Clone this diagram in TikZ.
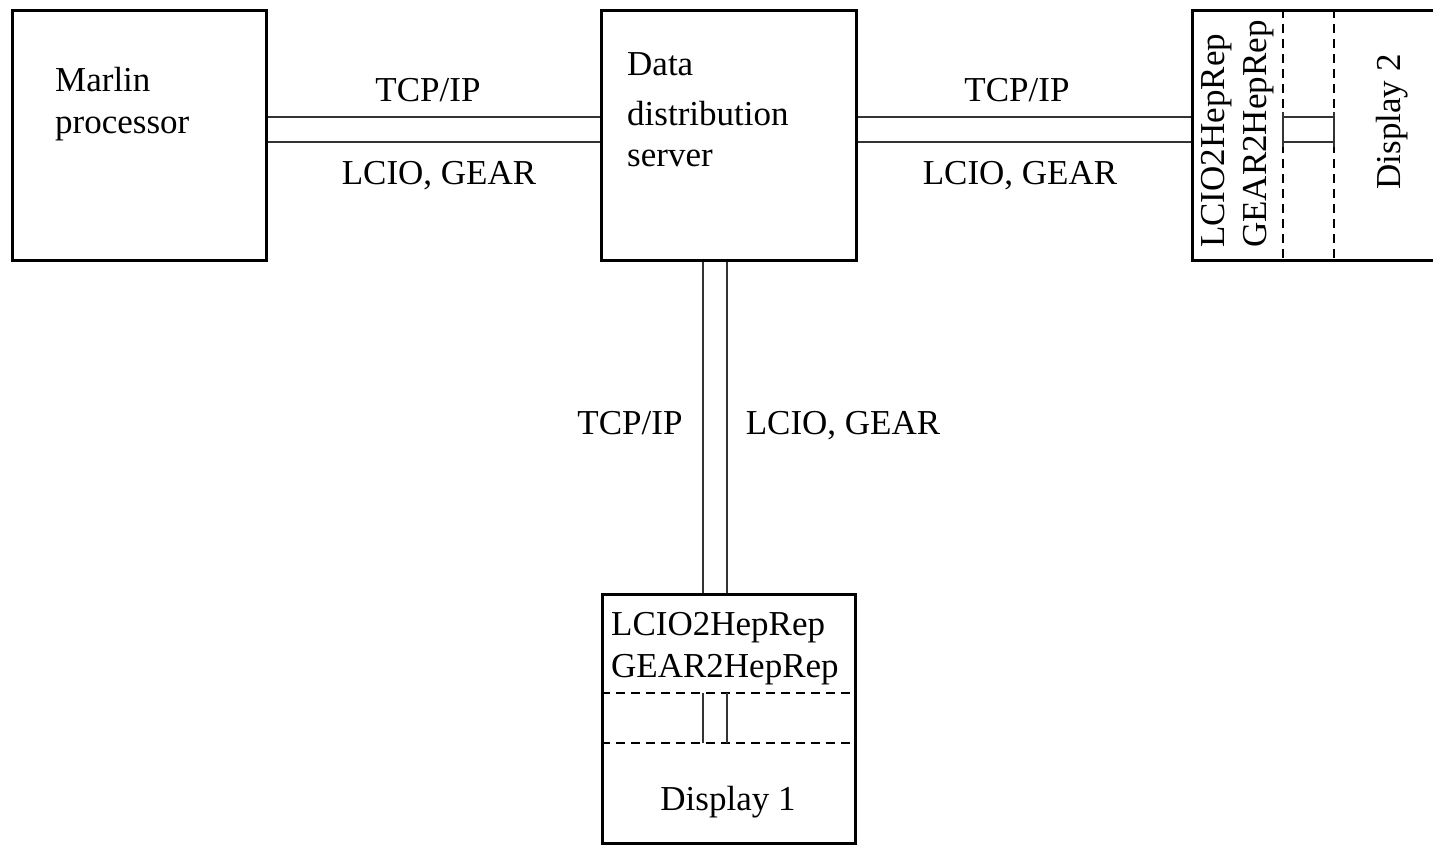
\documentclass[tikz,border=0pt]{standalone}
\usepackage{fontspec}
\setmainfont{Liberation Serif}
\begin{document}
\begin{tikzpicture}[x=1pt,y=-1pt,
  box/.style={draw,line width=3pt,rectangle,anchor=north west,inner sep=0pt},
  conn/.style={line width=1.3pt,draw=black!80},
  dashline/.style={line width=1.3pt,dash pattern=on 9pt off 6pt},
  lbl/.style={font=\fontsize{35}{42}\selectfont,inner sep=0pt},
]
\useasboundingbox (0,0) rectangle (1433,844);
\clip (0,0) rectangle (1433,844);
% boxes
\node[box,minimum width=254pt,minimum height=250pt] (marlin) at (11,9) {};
\node[box,minimum width=255pt,minimum height=250pt] (server) at (600,9) {};
\node[box,minimum width=260pt,minimum height=250pt] (disp2) at (1191,9) {};
\node[box,minimum width=253pt,minimum height=249pt] (disp1) at (601,593) {};
% dashed separators
\coordinate (d2a) at (1283,9);
\coordinate (d2b) at (1334,9);
\draw[dashline] (d2a) -- (d2a |- disp2.south);
\draw[dashline] (d2b) -- (d2b |- disp2.south);
\coordinate (d1a) at (601,693);
\coordinate (d1b) at (601,743);
\draw[dashline] (d1a) -- (d1a -| disp1.east);
\draw[dashline] (d1b) -- (d1b -| disp1.east);
% connectors
\draw[conn] (marlin.east |- 0,117) -- (server.west |- 0,117);
\draw[conn] (marlin.east |- 0,142) -- (server.west |- 0,142);
\draw[conn] (server.east |- 0,117) -- (disp2.west |- 0,117);
\draw[conn] (server.east |- 0,142) -- (disp2.west |- 0,142);
\draw[conn] (server.south -| 703,0) -- (disp1.north -| 703,0);
\draw[conn] (server.south -| 727,0) -- (disp1.north -| 727,0);
% inner continuation in displays
\draw[conn] (d2a |- 0,117) -- (d2b |- 0,117);
\draw[conn] (d2a |- 0,142) -- (d2b |- 0,142);
\draw[conn] (d2a |- 0,112) -- (d2a |- 0,147);
\draw[conn] (d2b |- 0,112) -- (d2b |- 0,147);
\draw[conn] (d1a -| 703,0) -- (d1b -| 703,0);
\draw[conn] (d1a -| 727,0) -- (d1b -| 727,0);
% texts
\node[lbl,anchor=base west] (t1) at (55,91) {Marlin};
\node[lbl,anchor=base west] (t2) at (55,133) {processor};
\node[lbl,anchor=base west] (t3) at (627,75) {Data};
\node[lbl,anchor=base west] (t4) at (627,125) {distribution};
\node[lbl,anchor=base west] (t5) at (627,166) {server};
\node[lbl,anchor=base] (l1) at (428,101) {TCP/IP};
\node[lbl,anchor=base] (l2) at (439,184) {LCIO, GEAR};
\node[lbl,anchor=base] (l3) at (1017,101) {TCP/IP};
\node[lbl,anchor=base] (l4) at (1020,184) {LCIO, GEAR};
\node[lbl,anchor=base] (l5) at (630,434) {TCP/IP};
\node[lbl,anchor=base] (l6) at (843,434) {LCIO, GEAR};
\node[lbl,anchor=base west] (t6) at (611,635) {LCIO2HepRep};
\node[lbl,anchor=base west] (t7) at (611,677) {GEAR2HepRep};
\node[lbl,anchor=base] (t8) at (728,810) {Display 1};
\node[lbl,anchor=base west,rotate=90] (t9) at (1224,248) {LCIO2HepRep};
\node[lbl,anchor=base west,rotate=90] (t10) at (1266,248) {GEAR2HepRep};
\node[lbl,anchor=base,rotate=90] (t11) at (1400,122) {Display 2};
\end{tikzpicture}
\end{document}
